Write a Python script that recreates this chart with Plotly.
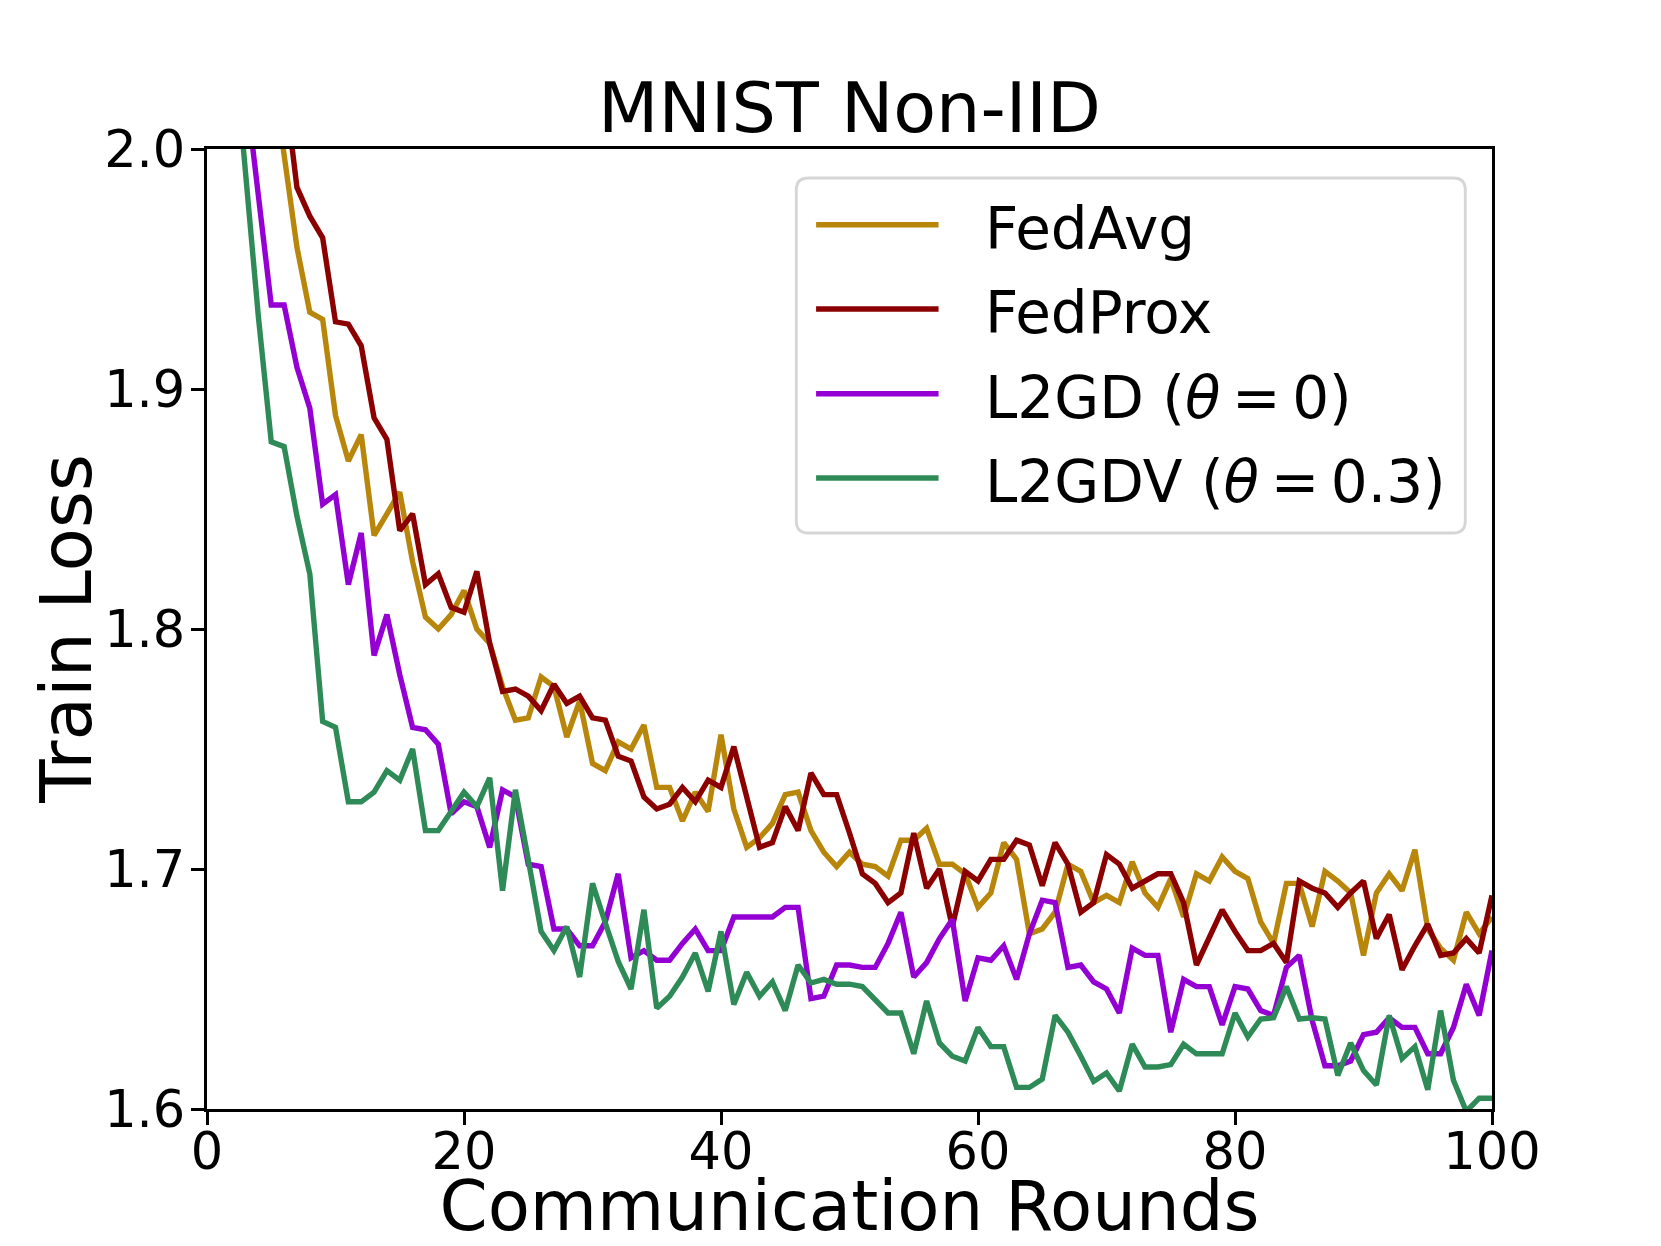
import plotly.graph_objects as go

rounds = list(range(0, 101))

fedavg = [2.30, 2.25, 2.20, 2.15, 2.09, 2.036, 1.996, 1.959, 1.932, 1.929,
          1.889, 1.870, 1.881, 1.839, 1.848, 1.857, 1.828, 1.805, 1.800, 1.806,
          1.816, 1.800, 1.794, 1.776, 1.762, 1.763, 1.780, 1.776, 1.755, 1.770,
          1.744, 1.741, 1.753, 1.750, 1.760, 1.734, 1.734, 1.720, 1.732, 1.724,
          1.756, 1.725, 1.709, 1.713, 1.719, 1.731, 1.732, 1.716, 1.707, 1.701,
          1.707, 1.702, 1.701, 1.697, 1.712, 1.712, 1.717, 1.702, 1.702, 1.698,
          1.684, 1.690, 1.711, 1.704, 1.673, 1.675, 1.682, 1.702, 1.699, 1.686,
          1.689, 1.686, 1.703, 1.690, 1.684, 1.696, 1.680, 1.698, 1.695, 1.705,
          1.699, 1.696, 1.678, 1.669, 1.694, 1.694, 1.676, 1.699, 1.695, 1.690,
          1.664, 1.690, 1.698, 1.691, 1.708, 1.675, 1.667, 1.662, 1.682, 1.673,
          1.680]

fedprox = [2.30, 2.26, 2.22, 2.17, 2.12, 2.07, 2.028, 1.984, 1.972, 1.963,
           1.928, 1.927, 1.918, 1.888, 1.879, 1.841, 1.848, 1.8185, 1.823, 1.809,
           1.807, 1.824, 1.794, 1.774, 1.775, 1.772, 1.766, 1.777, 1.769, 1.772,
           1.763, 1.762, 1.747, 1.745, 1.730, 1.725, 1.727, 1.734, 1.728, 1.737,
           1.734, 1.751, 1.730, 1.709, 1.711, 1.726, 1.716, 1.740, 1.731, 1.731,
           1.715, 1.698, 1.694, 1.686, 1.690, 1.715, 1.692, 1.700, 1.676, 1.699,
           1.695, 1.704, 1.704, 1.712, 1.710, 1.693, 1.711, 1.702, 1.682, 1.686,
           1.706, 1.702, 1.692, 1.695, 1.698, 1.698, 1.686, 1.660, 1.672, 1.683,
           1.674, 1.666, 1.666, 1.669, 1.661, 1.695, 1.692, 1.690, 1.684, 1.690,
           1.695, 1.671, 1.681, 1.658, 1.668, 1.677, 1.664, 1.665, 1.671, 1.665,
           1.689]

l2gd = [2.30, 2.20, 2.10, 2.026, 1.981, 1.935, 1.935, 1.909, 1.892, 1.852,
        1.856, 1.8185, 1.840, 1.789, 1.806, 1.781, 1.759, 1.758, 1.752, 1.723,
        1.728, 1.726, 1.709, 1.733, 1.730, 1.702, 1.701, 1.675, 1.675, 1.668,
        1.668, 1.678, 1.698, 1.663, 1.666, 1.662, 1.662, 1.669, 1.675, 1.666,
        1.666, 1.680, 1.680, 1.680, 1.680, 1.684, 1.684, 1.646, 1.647, 1.660,
        1.660, 1.659, 1.659, 1.669, 1.682, 1.655, 1.661, 1.671, 1.679, 1.645,
        1.663, 1.662, 1.668, 1.654, 1.673, 1.687, 1.686, 1.659, 1.660, 1.653,
        1.650, 1.640, 1.667, 1.664, 1.664, 1.632, 1.654, 1.651, 1.651, 1.635,
        1.651, 1.650, 1.641, 1.639, 1.659, 1.664, 1.637, 1.618, 1.618, 1.620,
        1.631, 1.632, 1.638, 1.634, 1.634, 1.623, 1.623, 1.634, 1.652, 1.639,
        1.666]

l2gdv = [2.30, 2.15, 2.05, 1.988, 1.930, 1.878, 1.876, 1.847, 1.823, 1.7615,
         1.759, 1.728, 1.728, 1.732, 1.741, 1.737, 1.750, 1.716, 1.716, 1.724,
         1.732, 1.726, 1.738, 1.691, 1.733, 1.704, 1.674, 1.666, 1.676, 1.655,
         1.694, 1.6775, 1.6615, 1.650, 1.683, 1.642, 1.647, 1.655, 1.665, 1.649,
         1.674, 1.6435, 1.657, 1.647, 1.653, 1.641, 1.660, 1.6525, 1.654, 1.652,
         1.652, 1.651, 1.6455, 1.640, 1.640, 1.623, 1.645, 1.6275, 1.622, 1.620,
         1.634, 1.626, 1.626, 1.609, 1.609, 1.6125, 1.639, 1.632, 1.622, 1.6115,
         1.615, 1.6075, 1.627, 1.6175, 1.6175, 1.6185, 1.627, 1.623, 1.623, 1.623,
         1.640, 1.630, 1.6375, 1.638, 1.651, 1.6375, 1.638, 1.6375, 1.614, 1.6275,
         1.616, 1.610, 1.639, 1.621, 1.626, 1.608, 1.641, 1.612, 1.599, 1.6045,
         1.6045]

series_names = ["FedAvg", "FedProx",
                "L2GD (<i>θ</i>\u2009=\u20090)",
                "L2GDV (<i>θ</i>\u2009=\u20090.3)"]
series_values = [fedavg, fedprox, l2gd, l2gdv]
series_colors = ["#B8860B", "#8B0000", "#9400D3", "#2E8B57"]

x_ticks = [0, 20, 40, 60, 80, 100]
y_ticks = [1.6, 1.7, 1.8, 1.9, 2.0]

FONT = "DejaVu Sans"
FIG_W, FIG_H = 1653, 1238   # page has an 8px body margin

fig = go.Figure()
for name, vals, color in zip(series_names, series_values, series_colors):
    fig.add_trace(go.Scatter(x=rounds, y=vals, mode="lines", name=name,
                             line=dict(color=color, width=5.4),
                             showlegend=False))

# matplotlib-style legend box
bx0, bx1, by0, by1 = 0.4586, 0.9792, 0.600, 0.9698
rx, ry = 12 / 1285, 12 / 960
path = (f"M {bx0+rx},{by0} L {bx1-rx},{by0} Q {bx1},{by0} {bx1},{by0+ry} "
        f"L {bx1},{by1-ry} Q {bx1},{by1} {bx1-rx},{by1} L {bx0+rx},{by1} "
        f"Q {bx0},{by1} {bx0},{by1-ry} L {bx0},{by0+ry} Q {bx0},{by0} {bx0+rx},{by0} Z")
shapes = [dict(type="path", path=path, xref="paper", yref="paper",
               fillcolor="rgba(255,255,255,0.8)",
               line=dict(color="rgb(214,214,214)", width=2.9), layer="above")]
annotations = []
row_y = [0.9211, 0.8333, 0.7451, 0.6573]
for name, color, yy in zip(series_names, series_colors, row_y):
    shapes.append(dict(type="line", xref="paper", yref="paper",
                       x0=0.4740, x1=0.5693, y0=yy, y1=yy,
                       line=dict(color=color, width=5.4), layer="above"))
    annotations.append(dict(text=name, xref="paper", yref="paper",
                            x=0.6042, y=yy - 0.004, xanchor="left", yanchor="middle",
                            showarrow=False,
                            font=dict(family=FONT, size=58, color="black")))

# y-axis title placed like matplotlib's ylabel
annotations.append(dict(text="Train Loss", xref="paper", yref="paper",
                        x=-0.110, y=0.5, xanchor="center", yanchor="middle",
                        textangle=-90, showarrow=False,
                        font=dict(family=FONT, size=71, color="black")))

axis_common = dict(showgrid=False, zeroline=False, showline=True, mirror=True,
                   linecolor="black", linewidth=2.9, ticks="outside",
                   ticklen=12.6, tickwidth=2.9, tickcolor="black",
                   automargin=False,
                   tickfont=dict(family=FONT, size=51, color="black"))

fig.update_layout(
    width=FIG_W, height=FIG_H,
    margin=dict(l=199, r=169, t=141, b=137),
    paper_bgcolor="white", plot_bgcolor="white",
    font=dict(family=FONT, color="black"),
    title=dict(text="MNIST Non-IID", x=0.5, xref="paper", xanchor="center",
               y=1 - 99 / FIG_H, yref="container", yanchor="middle",
               font=dict(family=FONT, size=70, color="black")),
    xaxis=dict(range=[0, 100], tickvals=x_ticks,
               ticktext=[str(t) for t in x_ticks],
               ticklabelstandoff=-17,
               title=dict(text="Communication Rounds",
                          font=dict(family=FONT, size=69, color="black"),
                          standoff=24),
               **axis_common),
    yaxis=dict(range=[1.6, 2.0], tickvals=y_ticks,
               ticktext=[f"{t:.1f}" for t in y_ticks],
               ticklabelstandoff=-4,
               **axis_common),
    shapes=shapes,
    annotations=annotations,
)

fig.write_html("out.html")
